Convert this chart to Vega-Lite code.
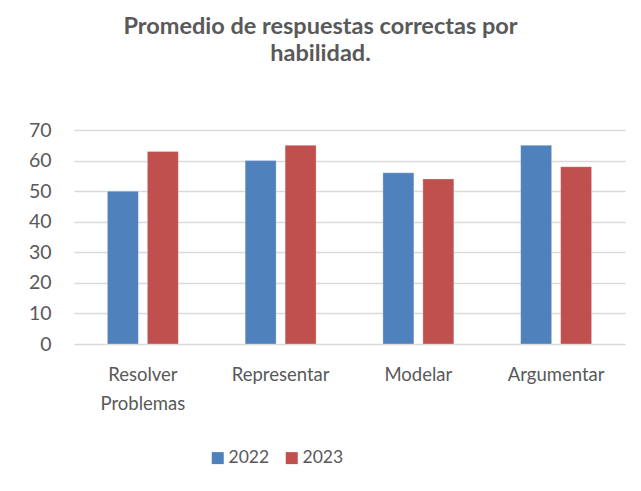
{
  "$schema": "https://vega.github.io/schema/vega-lite/v6.json",
  "autosize": "none",
  "width": 551,
  "height": 214,
  "padding": {"left": 74, "top": 130, "right": 16, "bottom": 147},
  "background": "white",
  "title": {
    "text": ["Promedio de respuestas correctas por", "habilidad."],
    "font": "Lato",
    "fontSize": 23.5,
    "fontWeight": "bold",
    "color": "#595959",
    "lineHeight": 27,
    "anchor": "middle",
    "frame": "group",
    "dx": -29,
    "offset": 55
  },
  "data": {
    "values": [
      {"habilidad": "Resolver Problemas", "year": "2022", "valor": 50},
      {"habilidad": "Resolver Problemas", "year": "2023", "valor": 63},
      {"habilidad": "Representar", "year": "2022", "valor": 60},
      {"habilidad": "Representar", "year": "2023", "valor": 65},
      {"habilidad": "Modelar", "year": "2022", "valor": 56},
      {"habilidad": "Modelar", "year": "2023", "valor": 54},
      {"habilidad": "Argumentar", "year": "2022", "valor": 65},
      {"habilidad": "Argumentar", "year": "2023", "valor": 58}
    ]
  },
  "mark": {"type": "bar", "stroke": "white", "strokeWidth": 0.5, "strokeOpacity": 0.6},
  "encoding": {
    "x": {
      "field": "habilidad",
      "type": "nominal",
      "sort": null,
      "scale": {"paddingInner": 0.485, "paddingOuter": 0.2425},
      "axis": {
        "title": null,
        "labelAngle": 0,
        "labelFont": "Lato",
        "labelFontSize": 18.5,
        "labelColor": "#595959",
        "labelPadding": 21,
        "labelLineHeight": 29,
        "labelExpr": "datum.label == 'Resolver Problemas' ? ['Resolver', 'Problemas'] : datum.label",
        "ticks": false,
        "domain": false
      }
    },
    "xOffset": {
      "field": "year",
      "type": "nominal",
      "scale": {"paddingInner": 0.225, "paddingOuter": 0}
    },
    "y": {
      "field": "valor",
      "type": "quantitative",
      "scale": {"domain": [0, 70]},
      "axis": {
        "title": null,
        "values": [0, 10, 20, 30, 40, 50, 60, 70],
        "labelFont": "Lato",
        "labelFontSize": 19.5,
        "labelColor": "#595959",
        "labelPadding": 23,
        "ticks": false,
        "domain": false,
        "grid": true,
        "gridColor": "#D9D9D9",
        "gridWidth": 1.5
      }
    },
    "color": {
      "field": "year",
      "type": "nominal",
      "scale": {"domain": ["2022", "2023"], "range": ["#4F81BD", "#C0504D"]},
      "legend": {
        "title": null,
        "orient": "none",
        "direction": "horizontal",
        "legendX": 135,
        "legendY": 319,
        "symbolType": "square",
        "symbolSize": 144,
        "symbolStrokeWidth": 0,
        "labelFont": "Lato",
        "labelFontSize": 17.5,
        "labelColor": "#595959",
        "labelOffset": 2,
        "columnPadding": 13
      }
    }
  },
  "config": {"view": {"stroke": null}}
}
